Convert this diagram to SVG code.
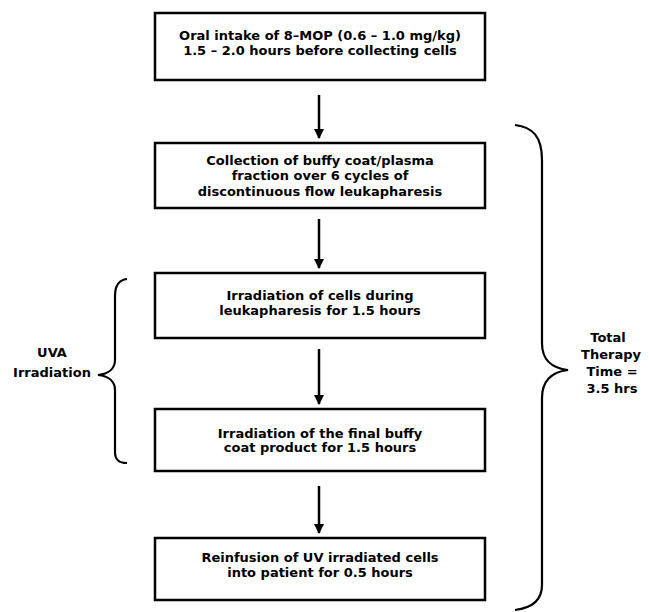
<svg xmlns="http://www.w3.org/2000/svg" width="649" height="612" viewBox="0 0 649 612">
<defs>
<style>
.box{fill:#fff;stroke:#000;stroke-width:2.5}
.t{font-family:"DejaVu Sans","Liberation Sans",Arial,sans-serif;font-weight:bold;font-size:13px;fill:#000;text-anchor:middle}
.ln{stroke:#000;stroke-width:2.5;fill:none}
.br{stroke:#000;stroke-width:2.2;fill:none}
</style>
<marker id="ah" viewBox="0 0 10 10" refX="9" refY="5" markerWidth="4" markerHeight="4" orient="auto" markerUnits="strokeWidth">
<path d="M0,0 L10,5 L0,10 z" fill="#000"/>
</marker>
</defs>
<rect width="649" height="612" fill="#fff"/>
<g id="connectors">
<line class="ln" x1="319" y1="95" x2="319" y2="138" marker-end="url(#ah)"/>
<line class="ln" x1="319" y1="219" x2="319" y2="268" marker-end="url(#ah)"/>
<line class="ln" x1="319" y1="349" x2="319" y2="404" marker-end="url(#ah)"/>
<line class="ln" x1="319" y1="486" x2="319" y2="533" marker-end="url(#ah)"/>
</g>
<g id="node1">
<rect class="box" x="155" y="13" width="330" height="67"/>
<text class="t" x="320" y="40">Oral intake of 8–MOP (0.6 – 1.0 mg/kg)</text>
<text class="t" x="320" y="55">1.5 – 2.0 hours before collecting cells</text>
</g>
<g id="node2">
<rect class="box" x="155" y="143" width="330" height="65"/>
<text class="t" x="320" y="165">Collection of buffy coat/plasma</text>
<text class="t" x="320" y="180">fraction over 6 cycles of</text>
<text class="t" x="320" y="196">discontinuous flow leukapharesis</text>
</g>
<g id="node3">
<rect class="box" x="155" y="273" width="330" height="65"/>
<text class="t" x="320" y="300">Irradiation of cells during</text>
<text class="t" x="320" y="315">leukapharesis for 1.5 hours</text>
</g>
<g id="node4">
<rect class="box" x="155" y="409" width="330" height="62"/>
<text class="t" x="320" y="438">Irradiation of the final buffy</text>
<text class="t" x="320" y="452">coat product for 1.5 hours</text>
</g>
<g id="node5">
<rect class="box" x="155" y="538" width="330" height="62"/>
<text class="t" x="320" y="562">Reinfusion of UV irradiated cells</text>
<text class="t" x="320" y="577">into patient for 0.5 hours</text>
</g>
<g id="uva-brace">
<path class="br" d="M127,279 C118,280 115,286 115,296 L115,360 C115,369 108,374 98,375 C108,376 115,381 115,390 L115,452 C115,460 119,463 127,463"/>
<text class="t" x="52" y="357">UVA</text>
<text class="t" x="52" y="377">Irradiation</text>
</g>
<g id="total-brace">
<path class="br" d="M515,125 C533,127 542,137 542,160 L542,343 C542,361 552,368 568,370 C552,372 542,380 542,398 L542,585 C542,600 532,608 515,610"/>
<text class="t" x="608" y="342">Total</text>
<text class="t" x="611" y="359">Therapy</text>
<text class="t" x="612" y="376">Time =</text>
<text class="t" x="612" y="393">3.5 hrs</text>
</g>
</svg>
